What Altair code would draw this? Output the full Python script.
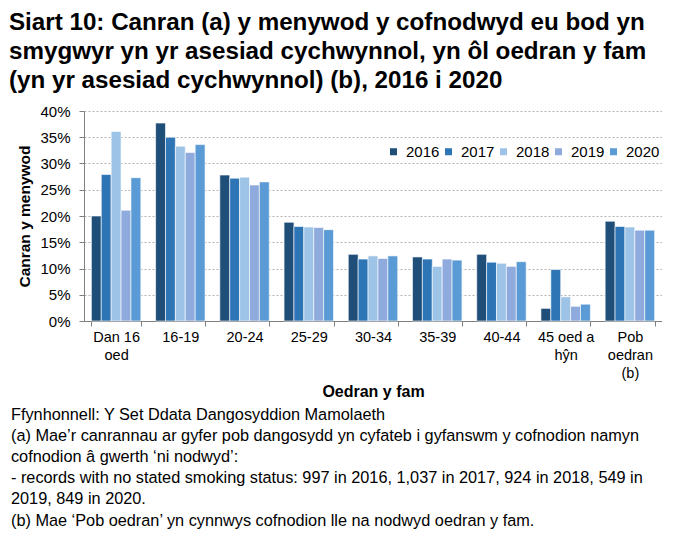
import altair as alt
import pandas as pd

categories = ["Dan 16|oed", "16-19", "20-24", "25-29", "30-34", "35-39", "40-44", "45 oed a|hŷn", "Pob|oedran|(b)"]
years = ["2016", "2017", "2018", "2019", "2020"]
v2016 = [20.0, 37.7, 27.8, 18.8, 12.7, 12.2, 12.7, 2.4, 19.0]
v2017 = [27.9, 35.0, 27.2, 18.0, 11.8, 11.8, 11.2, 9.8, 18.0]
v2018 = [36.1, 33.3, 27.4, 17.9, 12.4, 10.4, 11.0, 4.6, 17.9]
v2019 = [21.1, 32.1, 25.9, 17.8, 11.9, 11.8, 10.4, 2.8, 17.3]
v2020 = [27.3, 33.6, 26.5, 17.4, 12.4, 11.6, 11.3, 3.2, 17.3]
colors = ["#1f4e79", "#2e75b6", "#9dc3e6", "#8faadc", "#5b9bd5"]

title_lines = [
    "Siart 10: Canran (a) y menywod y cofnodwyd eu bod yn",
    "smygwyr yn yr asesiad cychwynnol, yn ôl oedran y fam",
    "(yn yr asesiad cychwynnol) (b), 2016 i 2020",
]
foot_lines = [
    "Ffynhonnell: Y Set Ddata Dangosyddion Mamolaeth",
    "(a) Mae’r canrannau ar gyfer pob dangosydd yn cyfateb i gyfanswm y cofnodion namyn",
    "cofnodion â gwerth ‘ni nodwyd’:",
    " - records with no stated smoking status: 997 in 2016, 1,037 in 2017, 924 in 2018, 549 in",
    "2019, 849 in 2020.",
    "(b) Mae ‘Pob oedran’ yn cynnwys cofnodion lle na nodwyd oedran y fam.",
]

series = [v2016, v2017, v2018, v2019, v2020]
rows = []
for y, vals in zip(years, series):
    for c, v in zip(categories, vals):
        rows.append({"cat": c, "year": y, "value": v / 100})
df = pd.DataFrame(rows)

SANS = "Liberation Sans"

bars = alt.Chart(df).mark_bar(stroke="white", strokeWidth=0.6).encode(
    x=alt.X("cat:N", sort=categories,
            scale=alt.Scale(paddingInner=0.23, paddingOuter=0.115),
            axis=alt.Axis(title="Oedran y fam", labelAngle=0, tickBand="extent",
                          labelExpr="split(datum.label, '|')", labelFont=SANS,
                          labelFontSize=14.5, labelLineHeight=18, labelColor="black",
                          labelPadding=4, tickColor="#808080", domainColor="#808080",
                          tickSize=5, titleFont=SANS, titleFontSize=16, titleFontWeight="bold",
                          titleColor="black", titlePadding=4, grid=False)),
    xOffset=alt.XOffset("year:N", sort=years),
    y=alt.Y("value:Q", scale=alt.Scale(domain=[0, 0.4], nice=False),
            axis=alt.Axis(title="Canran y menywod", format=".0%", values=[i * 0.05 for i in range(9)],
                          labelFont=SANS, labelFontSize=15, labelColor="black", labelPadding=9,
                          tickColor="#808080", domainColor="#808080", tickSize=5,
                          titleFont=SANS, titleFontSize=15.5, titleFontWeight="bold", titleColor="black",
                          titlePadding=7, gridColor="#a0a0a0", gridDash=[2, 2], gridWidth=0.8)),
    color=alt.Color("year:N", sort=years, scale=alt.Scale(domain=years, range=colors),
                    legend=alt.Legend(title=None, orient="none", direction="horizontal",
                                      legendX=302, legendY=33, symbolType="square", symbolSize=49,
                                      symbolStrokeWidth=0, labelFont=SANS, labelFontSize=15,
                                      labelColor="black", columnPadding=1, labelOffset=5,
                                      padding=0)),
).properties(
    width=578, height=210,
    title=alt.TitleParams(foot_lines, orient="bottom", anchor="start", frame="bounds",
                          font=SANS, fontSize=16.3, fontWeight="normal", color="black",
                          lineHeight=21.2, offset=7, dx=-7),
)

chart = alt.vconcat(bars).properties(
    title=alt.TitleParams(title_lines, anchor="start", font=SANS, fontSize=24.2,
                          fontWeight="bold", color="black", lineHeight=29, offset=11, dx=-2),
    padding={"left": 0, "top": 2, "right": 0, "bottom": 0},
).configure_view(stroke=None)

chart.save("out.html", embed_options={"renderer": "svg", "actions": False})
